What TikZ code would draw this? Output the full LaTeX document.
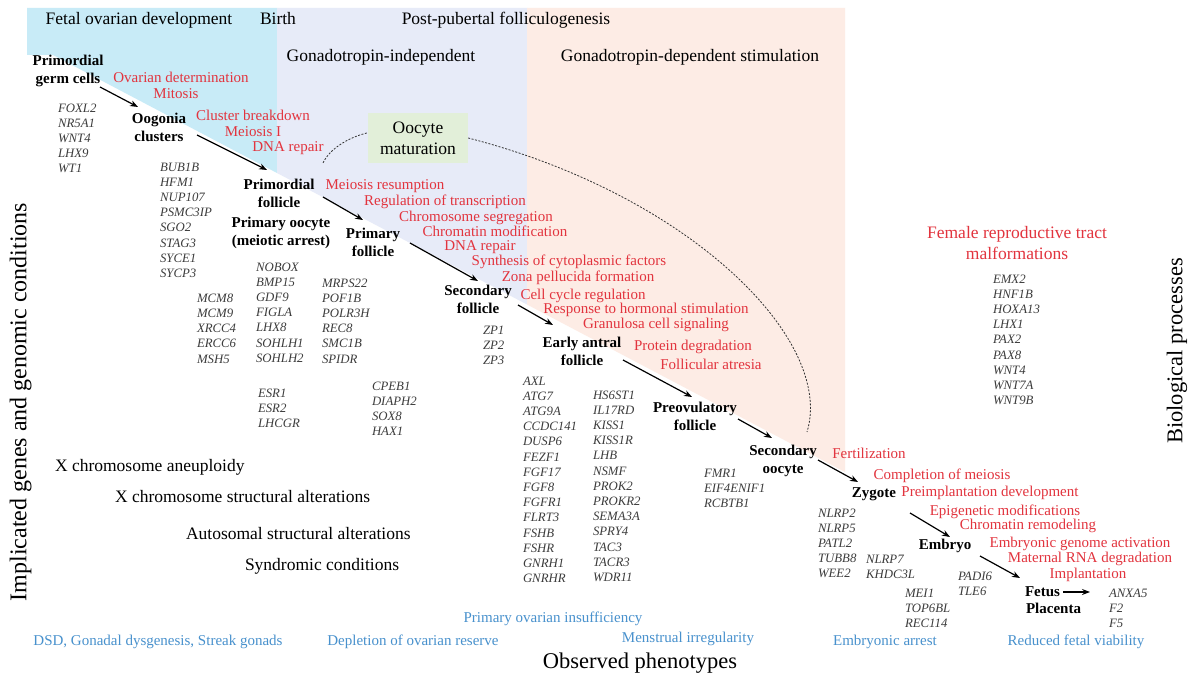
\documentclass[tikz,border=0pt]{standalone}
\usepackage{fontspec}
\setmainfont{Liberation Serif}
\usetikzlibrary{arrows.meta}
\definecolor{bgblue}{RGB}{200,235,247}
\definecolor{bglav}{RGB}{231,235,248}
\definecolor{bgpeach}{RGB}{253,236,229}
\definecolor{bggreen}{RGB}{226,239,217}
\definecolor{procred}{RGB}{226,52,62}
\definecolor{phenoblue}{RGB}{72,145,205}
\definecolor{genegray}{RGB}{60,60,60}
\begin{document}
\begin{tikzpicture}[x=1pt,y=-1pt,
 lbl/.style={inner sep=0pt, outer sep=0pt, text height=0.66em, text depth=0pt},
 toplbl/.style={lbl, font=\fontsize{17.5}{21}\selectfont},
 proc/.style={lbl, text=procred, font=\fontsize{15}{18}\selectfont},
 pheno/.style={lbl, text=phenoblue, font=\fontsize{15}{18}\selectfont},
 cond/.style={lbl, anchor=west, font=\fontsize{17.5}{21}\selectfont},
 stage/.style={inner sep=0pt, outer sep=0pt, anchor=north, align=center, font=\fontsize{15}{18}\selectfont\bfseries},
 genes/.style={inner sep=0pt, outer sep=0pt, anchor=north west, align=left, text=genegray, font=\fontsize{12.8}{15.2}\selectfont\itshape},
 axislbl/.style={lbl, font=\fontsize{23}{27}\selectfont},
 flow/.style={-{Stealth[length=8pt,width=6pt]}, line width=1.2pt, black},
 link/.style={dash pattern=on 2pt off 1.5pt, line width=0.8pt, black!80},
]
\useasboundingbox (0,0) rectangle (1199,679);
\fill[white] (0,0) rectangle (1199,679);
% backgrounds
\fill[bgblue] (27,8) -- (277,8) -- (277,173) -- (53,55) -- (27,55) -- cycle;
\fill[bglav] (277,8) -- (527,8) -- (527,304.5) -- (277,173) -- cycle;
\fill[bgpeach] (527,8) -- (845,8) -- (845,472) -- (527,304.5) -- cycle;
\node[fill=bggreen, inner sep=0pt, minimum width=100pt, minimum height=50pt, align=center, font=\fontsize{17.5}{21}\selectfont] (om) at (418,138) {Oocyte\\maturation};
% top labels
\node[toplbl] (tfetal) at (139,21) {Fetal ovarian development};
\node[toplbl] (tbirth) at (278,21) {Birth};
\node[toplbl] (tpost) at (506,21) {Post-pubertal folliculogenesis};
\node[toplbl] (tgi) at (381,58) {Gonadotropin-independent};
\node[toplbl] (tgd) at (690,58) {Gonadotropin-dependent stimulation};
% stages
\node[stage] (pgc) at (68,54.9) {Primordial\\germ cells};
\node[stage] (oog) at (159,112.9) {Oogonia\\clusters};
\node[stage] (pf) at (279,178.9) {Primordial\\follicle};
\node[stage] (po) at (281,216.9) {Primary oocyte\\(meiotic arrest)};
\node[stage] (prf) at (373,227.9) {Primary\\follicle};
\node[stage] (sf) at (478,284.9) {Secondary\\follicle};
\node[stage] (eaf) at (582,336.9) {Early antral\\follicle};
\node[stage] (pof) at (695,401.9) {Preovulatory\\follicle};
\node[stage] (so) at (783,444.9) {Secondary\\oocyte};
\node[stage] (zy) at (874,487.9) {Zygote};
\node[stage] (emb) at (945,538.9) {Embryo};
\node[stage, anchor=north west] (fet) at (1025,586.9) {Fetus};
\node[stage, anchor=north west] (plac) at (1026,602.9) {Placenta};
% genes
\node[genes] (g1) at (58,103.7) {FOXL2\\NR5A1\\WNT4\\LHX9\\WT1};
\node[genes] (g2) at (160,162.7) {BUB1B\\HFM1\\NUP107\\PSMC3IP\\SGO2\\STAG3\\SYCE1\\SYCP3};
\node[genes] (g3) at (197,293.7) {MCM8\\MCM9\\XRCC4\\ERCC6\\MSH5};
\node[genes] (g4) at (256,262.7) {NOBOX\\BMP15\\GDF9\\FIGLA\\LHX8\\SOHLH1\\SOHLH2};
\node[genes] (g5) at (322,278.7) {MRPS22\\POF1B\\POLR3H\\REC8\\SMC1B\\SPIDR};
\node[genes] (g6) at (258,388.7) {ESR1\\ESR2\\LHCGR};
\node[genes] (g7) at (372,381.7) {CPEB1\\DIAPH2\\SOX8\\HAX1};
\node[genes] (g8) at (483,325.7) {ZP1\\ZP2\\ZP3};
\node[genes] (g9) at (523,376.7) {AXL\\ATG7\\ATG9A\\CCDC141\\DUSP6\\FEZF1\\FGF17\\FGF8\\FGFR1\\FLRT3\\FSHB\\FSHR\\GNRH1\\GNRHR};
\node[genes] (g10) at (593,390.7) {HS6ST1\\IL17RD\\KISS1\\KISS1R\\LHB\\NSMF\\PROK2\\PROKR2\\SEMA3A\\SPRY4\\TAC3\\TACR3\\WDR11};
\node[genes] (g11) at (704,468.7) {FMR1\\EIF4ENIF1\\RCBTB1};
\node[genes] (g12) at (818,508.7) {NLRP2\\NLRP5\\PATL2\\TUBB8\\WEE2};
\node[genes] (g13) at (866,554.7) {NLRP7\\KHDC3L};
\node[genes] (g14) at (905,588.7) {MEI1\\TOP6BL\\REC114};
\node[genes] (g15) at (958,571.7) {PADI6\\TLE6};
\node[genes] (anxa) at (1109,588.7) {ANXA5\\F2\\F5};
\node[genes] (g17) at (993,274.7) {EMX2\\HNF1B\\HOXA13\\LHX1\\PAX2\\PAX8\\WNT4\\WNT7A\\WNT9B};
% arrows
\draw[flow] ([shift={(32,32.1)}]pgc.north) -- ([shift={(-21,-5.9)}]oog.north);
\draw[flow] ([shift={(38,22.1)}]oog.north) -- ([shift={(-12,-8.9)}]pf.north);
\draw[flow] ([shift={(44,18.1)}]pf.north) -- ([shift={(-10,-7.9)}]prf.north);
\draw[flow] ([shift={(37,15.1)}]prf.north) -- ([shift={(0,-3.9)}]sf.north);
\draw[flow] ([shift={(40,20.1)}]sf.north) -- ([shift={(-29,-11.9)}]eaf.north);
\draw[flow] ([shift={(41,23.1)}]eaf.north) -- ([shift={(-3,-4.9)}]pof.north);
\draw[flow] ([shift={(43,17.1)}]pof.north) -- ([shift={(-11,-6.9)}]so.north);
\draw[flow] ([shift={(35,15.1)}]so.north) -- ([shift={(-16,-5.9)}]zy.north);
\draw[flow] ([shift={(36,25.1)}]zy.north) -- ([shift={(5,-1.9)}]emb.north);
\draw[flow] ([shift={(35,17.1)}]emb.north) -- ([shift={(-5,-8.9)}]fet.north west);
\draw[flow] ([shift={(38,5.1)}]fet.north west) -- ([shift={(-19,3.3)}]anxa.north west);
% dotted links
\draw[link] (om.east) .. controls (690,195) and (835,340) .. ([shift={(24,-12.9)}]so.north);
\draw[link] ([shift={(-1,-5)}]om.west) .. controls (350,137) and (330,148) .. ([shift={(44,-15.9)}]pf.north);
% processes
\node[proc] (ovdet) at (181,79) {Ovarian determination};
\node[proc] (mitosis) at (176,95) {Mitosis};
\node[proc] (clbr) at (253,117) {Cluster breakdown};
\node[proc] (meio1) at (253,133) {Meiosis I};
\node[proc] (dnar1) at (288,148) {DNA repair};
\node[proc] (meres) at (385,186) {Meiosis resumption};
\node[proc] (regtr) at (445,202) {Regulation of transcription};
\node[proc] (chseg) at (476,218) {Chromosome segregation};
\node[proc] (chmod) at (495,233) {Chromatin modification};
\node[proc] (dnar2) at (480,247) {DNA repair};
\node[proc] (synth) at (569,262) {Synthesis of cytoplasmic factors};
\node[proc] (zona) at (578,278) {Zona pellucida formation};
\node[proc] (ccreg) at (583,296) {Cell cycle regulation};
\node[proc] (resp) at (646,310) {Response to hormonal stimulation};
\node[proc] (gran) at (656,325) {Granulosa cell signaling};
\node[proc] (protd) at (693,347) {Protein degradation};
\node[proc] (fatr) at (711,366) {Follicular atresia};
\node[proc] (fert) at (869,455) {Fertilization};
\node[proc] (compm) at (942,476) {Completion of meiosis};
\node[proc] (preimp) at (990,493) {Preimplantation development};
\node[proc] (epi) at (1005,512) {Epigenetic modifications};
\node[proc] (chrem) at (1028,526) {Chromatin remodeling};
\node[proc] (ega) at (1080,544) {Embryonic genome activation};
\node[proc] (mrna) at (1090,559) {Maternal RNA degradation};
\node[proc] (impl) at (1088,575) {Implantation};
\node[inner sep=0pt, anchor=north, align=center, text=procred, font=\fontsize{17.5}{21}\selectfont] (frtm) at (1017,226) {Female reproductive tract\\malformations};
% genomic conditions
\node[cond] (xan) at (55,468) {X chromosome aneuploidy};
\node[cond] (xst) at (115,499) {X chromosome structural alterations};
\node[cond] (aut) at (186,536) {Autosomal structural alterations};
\node[cond] (syn) at (245,567) {Syndromic conditions};
% phenotypes
\node[pheno] (dsd) at (158,642) {DSD, Gonadal dysgenesis, Streak gonads};
\node[pheno] (depl) at (413,642) {Depletion of ovarian reserve};
\node[pheno] (poi) at (553,619) {Primary ovarian insufficiency};
\node[pheno] (menstr) at (688,639) {Menstrual irregularity};
\node[pheno] (embarr) at (885,642) {Embryonic arrest};
\node[pheno] (redfv) at (1076,642) {Reduced fetal viability};
% axis labels
\node[axislbl, font=\fontsize{22.5}{27}\selectfont] (obs) at (640,665) {Observed phenotypes};
\node[axislbl, font=\fontsize{24}{28}\selectfont, rotate=90] (yaxis) at (23,402) {Implicated genes and genomic conditions};
\node[axislbl, font=\fontsize{22.5}{27}\selectfont, rotate=90] (bio) at (1179,351) {Biological processes};
\end{tikzpicture}
\end{document}
